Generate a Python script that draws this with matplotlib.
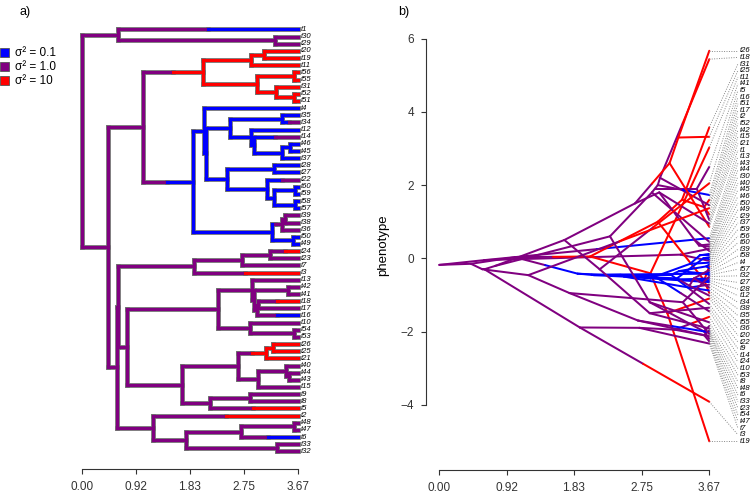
import numpy as np
import matplotlib
matplotlib.use('Agg')
import matplotlib.pyplot as plt
from matplotlib.patches import Rectangle

plt.rcParams['font.family'] = ['Liberation Sans', 'DejaVu Sans']

# tree topology: parent -> children (top to bottom as drawn)
children = {
    'root': ['A', 'B'], 'A': ['t1', 'n30'], 'n30': ['t30', 't29'],
    'B': ['C', 'D'], 'C': ['I', 'J'], 'I': ['K', 'L'],
    'K': ['n20', 't11'], 'n20': ['t20', 't19'],
    'L': ['n56', 'n31'], 'n56': ['t56', 't55'], 'n31': ['t31', 'n52'], 'n52': ['t52', 't51'],
    'J': ['M', 'N'], 'M': ['t4', 'M2'], 'M2': ['O', 'P'],
    'O': ['n35', 'Q'], 'n35': ['t35', 't34'], 'Q': ['t12', 'Q2'], 'Q2': ['t14', 'R'],
    'R': ['n46', 't37'], 'n46': ['t46', 't45'],
    'P': ['n28', 'S'], 'n28': ['t28', 't27'], 'S': ['t22', 'T'], 'T': ['n60', 'n58'],
    'n60': ['t60', 't59'], 'n58': ['t58', 't57'],
    'N': ['n36', 'n50'], 'n36': ['n39', 't36'], 'n39': ['t39', 't38'], 'n50': ['t50', 't49'],
    'D': ['F', 'G'], 'F': ['E', 'H'], 'E': ['U', 't3'], 'U': ['n24', 't7'], 'n24': ['t24', 't23'],
    'H': ['V', 'W'], 'V': ['X', 'Y'], 'X': ['t13', 'X2'], 'X2': ['n42', 'X3'], 'n42': ['t42', 't41'],
    'X3': ['n18', 't16'], 'n18': ['t18', 't17'], 'Y': ['t10', 'n54'], 'n54': ['t54', 't53'],
    'W': ['Z', 'AA'], 'Z': ['Z1', 'Z2'], 'Z1': ['n26', 't21'], 'n26': ['t26', 't25'],
    'Z2': ['n40', 't15'], 'n40': ['t40', 'n44'], 'n44': ['t44', 't43'],
    'AA': ['n9', 't5'], 'n9': ['t9', 't8'],
    'G': ['t2', 'AB'], 'AB': ['AC', 'n33'], 'AC': ['n48', 't6'], 'n48': ['t48', 't47'], 'n33': ['t33', 't32'],
}

tree_height = 3.67

# node ages (time from root)
node_time = {
    'root': 0.0, 'A': 0.61, 'n30': 3.28, 'B': 0.43, 'C': 1.03, 'I': 2.05, 'K': 2.87, 'n20': 3.10,
    'L': 2.97, 'n56': 3.60, 'n31': 3.30, 'n52': 3.60, 'J': 1.88, 'M': 2.07, 'M2': 2.10, 'O': 2.51,
    'n35': 3.40, 'Q': 2.87, 'Q2': 2.93, 'R': 3.41, 'n46': 3.54, 'P': 2.46, 'n28': 3.26, 'S': 3.15,
    'T': 3.26, 'n60': 3.63, 'n58': 3.63, 'N': 3.23, 'n36': 3.40, 'n39': 3.46, 'n50': 3.59,
    'D': 0.586, 'F': 0.613, 'E': 1.91, 'U': 2.72, 'n24': 3.20, 'H': 0.756, 'V': 2.32, 'X': 2.89,
    'X2': 2.93, 'X3': 2.97, 'n18': 3.00, 'n42': 3.50, 'Y': 2.86, 'n54': 3.60, 'W': 1.70, 'Z': 2.66,
    'Z1': 3.13, 'n26': 3.25, 'Z2': 2.99, 'n40': 3.47, 'n44': 3.53, 'AA': 2.18, 'n9': 2.86,
    'G': 1.21, 'AB': 1.77, 'AC': 2.70, 'n48': 3.60, 'n33': 3.31,
}

# reconstructed phenotype at internal nodes
node_value = {
    'root': -0.18, 'A': -0.05, 'n30': 0.10, 'B': -0.15, 'C': 0.03, 'I': 0.05, 'K': -0.41, 'n20': -1.5,
    'L': 1.0, 'n56': -0.6, 'n31': 1.6, 'n52': 1.4, 'J': -0.42, 'M': -0.45, 'M2': -0.46, 'O': -0.5,
    'n35': -0.8, 'Q': -0.55, 'Q2': -0.5, 'R': -0.15, 'n46': 0.08, 'P': -0.45, 'n28': -0.58, 'S': -0.45,
    'T': -0.35, 'n60': -0.22, 'n58': -0.42, 'N': -0.55, 'n36': -0.75, 'n39': -0.55, 'n50': 0.0,
    'D': -0.3, 'F': -0.3, 'E': -1.89, 'U': -1.9, 'n24': -1.95, 'H': -0.21, 'V': 0.6, 'X': 1.8,
    'X2': 1.9, 'X3': 2.0, 'n18': 2.2, 'n42': 1.9, 'Y': -1.2, 'n54': -2.0, 'W': 0.5, 'Z': 1.5,
    'Z1': 2.6, 'n26': 3.3, 'Z2': 1.8, 'n40': 0.5, 'n44': 0.35, 'AA': -0.3, 'n9': -1.5,
    'G': -0.46, 'AB': -0.95, 'AC': -1.7, 'n48': -2.1, 'n33': -1.2,
}

# phenotype at the tips
tip_value = {
    't26': 5.67, 't18': 5.44, 't31': 3.58, 't25': 3.32, 't11': 3.03, 't41': 2.5, 't5': 2.05,
    't16': 1.73, 't51': 1.6, 't17': 1.45, 't2': 1.37, 't52': 1.2, 't42': 1.05, 't15': 0.95,
    't21': 0.86, 't1': 0.55, 't13': 0.45, 't43': 0.38, 't44': 0.32, 't30': 0.26, 't40': 0.2,
    't45': 0.12, 't46': 0.08, 't50': 0.03, 't49': -0.02, 't29': -0.07, 't37': -0.12, 't59': -0.17,
    't56': -0.22, 't60': -0.27, 't39': -0.32, 't58': -0.37, 't4': -0.42, 't57': -0.46, 't32': -0.5,
    't27': -0.55, 't28': -0.6, 't12': -0.65, 't34': -0.72, 't38': -0.8, 't35': -0.88, 't55': -0.95,
    't36': -1.02, 't20': -1.1, 't22': -1.25, 't9': -1.35, 't14': -1.45, 't24': -1.6, 't10': -1.75,
    't53': -1.85, 't8': -1.92, 't48': -1.97, 't6': -2.02, 't33': -2.07, 't23': -2.13, 't54': -2.2,
    't47': -2.27, 't7': -2.33, 't3': -3.92, 't19': -5.0,
}

# regime shifts along branches (branch identified by its child): (time, new regime)
root_state = 'M'
shifts = {
    't1': [(2.14, 'L')], 'I': [(1.545, 'H')], 'J': [(1.44, 'L')], 't34': [(3.52, 'M')],
    't14': [(3.28, 'M')], 't22': [(3.41, 'M')], 'n36': [(3.28, 'M')], 't24': [(3.45, 'H')],
    't3': [(2.77, 'H')], 't18': [(3.31, 'H')], 't16': [(3.31, 'L')], 'Z1': [(2.89, 'H')],
    't5': [(2.91, 'H')], 't2': [(2.45, 'H')], 't6': [(3.17, 'L')],
}
state_color = {'L': '#0000FF', 'M': '#800080', 'H': '#FF0000'}
legend_states = ['L', 'M', 'H']
legend_labels = ['\u03c3\u00b2 = 0.1', '\u03c3\u00b2 = 1.0', '\u03c3\u00b2 = 10']
axis_ticks = [0.00, 0.92, 1.83, 2.75, 3.67]
pheno_ticks = [-4, -2, 0, 2, 4, 6]


def T(n):
    return node_time.get(n, tree_height)


def Val(n):
    return node_value[n] if n in node_value else tip_value[n]


# vertical layout (tips in order, nodes at mean of children)
node_y = {}
tip_order = []


def place(n):
    if n not in children:
        tip_order.append(n)
        node_y[n] = len(tip_order)
        return node_y[n]
    ys = [place(c) for c in children[n]]
    node_y[n] = sum(ys) / len(ys)
    return node_y[n]


place('root')

# paint regimes on branches
node_state = {'root': root_state}
segments = {}
parent_of = {}


def paint(n):
    for c in children.get(n, []):
        parent_of[c] = n
        t0, st = T(n), node_state[n]
        segs = []
        for ts, s in shifts.get(c, []):
            segs.append((t0, ts, st))
            t0, st = ts, s
        segs.append((t0, T(c), st))
        segments[c] = segs
        node_state[c] = st
        paint(c)


paint('root')

W_PX, H_PX = 750, 495
fig = plt.figure(figsize=(7.5, 4.95), dpi=100)


def fx(px):
    return px / W_PX


def fy(px):
    return 1 - px / H_PX


# ---------------- a) simmap tree ----------------
tip_top, tip_step = 29.5, 7.15
ax1 = fig.add_axes([fx(82.3), fy(469.3), (297.7 - 82.3) / W_PX, (469.3 - 20) / H_PX])
ax1.set_xlim(0, tree_height)
ax1.set_ylim(1 + (469.3 - tip_top) / tip_step, 1 - (tip_top - 20) / tip_step)

outline_lw, color_lw = 3.4, 2.2
for layer in ['outline', 'color']:
    for c, segs in segments.items():
        y = node_y[c]
        for t0, t1, s in segs:
            if layer == 'outline':
                ax1.plot([t0, t1], [y, y], color='#707070', lw=outline_lw,
                         solid_capstyle='projecting', clip_on=False, zorder=1)
            else:
                ax1.plot([t0, t1], [y, y], color=state_color[s], lw=color_lw,
                         solid_capstyle='projecting', clip_on=False, zorder=2)
    for n, ch in children.items():
        ys = [node_y[c] for c in ch]
        if layer == 'outline':
            ax1.plot([T(n), T(n)], [min(ys), max(ys)], color='#707070', lw=outline_lw,
                     solid_capstyle='projecting', clip_on=False, zorder=1)
        else:
            ax1.plot([T(n), T(n)], [min(ys), max(ys)], color=state_color[node_state[n]],
                     lw=color_lw, solid_capstyle='projecting', clip_on=False, zorder=3)

for t in tip_order:
    ax1.text(tree_height + 0.05, node_y[t], t, fontsize=5.5, style='italic',
             va='center', ha='left', clip_on=False)

for side in ['left', 'right', 'top']:
    ax1.spines[side].set_visible(False)
ax1.spines['bottom'].set_bounds(0, tree_height)
ax1.spines['bottom'].set_color('#333333')
ax1.set_yticks([])
ax1.set_xticks(axis_ticks)
ax1.set_xticklabels(['%.2f' % v for v in axis_ticks])
ax1.tick_params(axis='x', direction='out', length=3.5, pad=5, labelsize=8.5, colors='#333333')
ax1.patch.set_visible(False)

# legend
for i, (s, lab) in enumerate(zip(legend_states, legend_labels)):
    yc = 52.5 + i * 14
    fig.patches.append(Rectangle((fx(0), fy(yc + 4.5)), 9 / W_PX, 9 / H_PX, transform=fig.transFigure,
                                 facecolor=state_color[s], edgecolor='#555555', lw=0.6))
    fig.text(fx(15), fy(yc), lab, fontsize=8.5, va='center', ha='left')

fig.text(fx(20), fy(12), 'a)', fontsize=9, va='center', ha='left')
fig.text(fx(398), fy(12), 'b)', fontsize=9, va='center', ha='left')

# ---------------- b) phenogram ----------------
v_per_px = 1 / 36.6
ax2 = fig.add_axes([fx(425.7), fy(470), (709.3 - 425.7) / W_PX, 450 / H_PX])
ax2.set_xlim(-(439.3 - 425.7) / 73.6, tree_height)
ax2.set_ylim((258.3 - 470) * v_per_px, (258.3 - 20) * v_per_px)

for c, segs in segments.items():
    p = parent_of[c]
    tp, vp, tc, vc = T(p), Val(p), T(c), Val(c)
    for t0, t1, s in segs:
        v0 = vp + (vc - vp) * (t0 - tp) / (tc - tp)
        v1 = vp + (vc - vp) * (t1 - tp) / (tc - tp)
        ax2.plot([t0, t1], [v0, v1], color=state_color[s], lw=1.45,
                 solid_capstyle='round', clip_on=False)

# spread tip labels
sorted_tips = sorted(tip_value, key=lambda k: -tip_value[k])
lab_y = np.linspace(tip_value[sorted_tips[0]], tip_value[sorted_tips[-1]], len(sorted_tips))
x_line_end = (738 - 439.3) / 73.6
for t, ly in zip(sorted_tips, lab_y):
    ax2.plot([tree_height, x_line_end], [tip_value[t], ly], ls=(0, (1, 1.5)), color='#888888',
             lw=0.7, clip_on=False)
    ax2.text(x_line_end + 0.02, ly, t, fontsize=5.5, style='italic', va='center', ha='left',
             clip_on=False)

ax2.spines['right'].set_visible(False)
ax2.spines['top'].set_visible(False)
ax2.spines['left'].set_bounds(-4, 6)
ax2.spines['bottom'].set_bounds(0, tree_height)
for side in ['left', 'bottom']:
    ax2.spines[side].set_color('#333333')
ax2.set_xticks(axis_ticks)
ax2.set_xticklabels(['%.2f' % v for v in axis_ticks])
ax2.set_yticks(pheno_ticks)
ax2.set_yticklabels([str(v).replace('-', '\u2212') for v in pheno_ticks])
ax2.tick_params(axis='both', direction='out', length=3.5, pad=5, labelsize=8.5, colors='#333333')
ax2.patch.set_visible(False)
fig.text(fx(383), fy(245), 'phenotype', rotation=90, fontsize=9.5, va='center', ha='center')

fig.savefig('out.png', dpi=100)
